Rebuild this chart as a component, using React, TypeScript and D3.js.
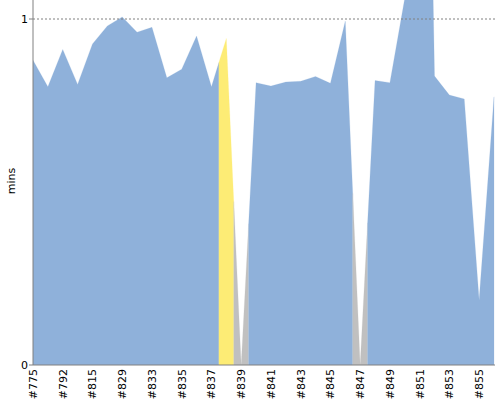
import React from "react";
import * as d3 from "d3";

const builds = [
  "#775", "#784", "#792", "#806", "#815", "#822", "#829", "#831",
  "#833", "#834", "#835", "#836", "#837", "#838", "#839", "#840",
  "#841", "#842", "#843", "#844", "#845", "#846", "#847", "#848",
  "#849", "#850", "#851", "#852", "#853", "#854", "#855", "#856",
];
const durations = [
  0.881, 0.804, 0.912, 0.811, 0.928, 0.98, 1.006, 0.962,
  0.976, 0.83, 0.855, 0.951, 0.804, 0.944, 0, 0.816,
  0.806, 0.818, 0.82, 0.834, 0.814, 0.994, 0, 0.822,
  0.816, 1.06, 3.3, 0.835, 0.78, 0.769, 0.188, 0.775,
];
const statuses = [
  "S", "S", "S", "S", "S", "S", "S", "S",
  "S", "S", "S", "S", "S", "U", "A", "S",
  "S", "S", "S", "S", "S", "S", "A", "S",
  "S", "S", "S", "S", "S", "S", "S", "S",
];
const yTicks = [0, 1];
const statusColors: Record<string, string> = {
  S: "#8fb1da",
  U: "#fdec75",
  A: "#c0c0c0",
};

const W = 500;
const H = 400;
const left = 33;
const right = 494;
const top = 0;
const bottom = 365;

export default function App() {
  const x = d3.scalePoint<string>().domain(builds).range([left, right]);
  const y = d3.scaleLinear().domain([0, 365 / 346]).range([bottom, top]);
  const n = builds.length;

  // group consecutive builds of equal status into runs
  const runs: { s: string; from: number; to: number }[] = [];
  statuses.forEach((s, i) => {
    const last = runs[runs.length - 1];
    if (last && last.s === s) last.to = i;
    else runs.push({ s, from: i, to: i });
  });

  const line = d3
    .line<[number, number]>()
    .x((p) => p[0])
    .y((p) => p[1]);

  const paths = runs.map((r) => {
    const pts: [number, number][] = [];
    const xa = r.from > 0 ? (x(builds[r.from - 1])! + x(builds[r.from])!) / 2 : x(builds[r.from])!;
    const va = r.from > 0 ? (durations[r.from - 1] + durations[r.from]) / 2 : durations[r.from];
    const xb = r.to < n - 1 ? (x(builds[r.to + 1])! + x(builds[r.to])!) / 2 : x(builds[r.to])!;
    const vb = r.to < n - 1 ? (durations[r.to + 1] + durations[r.to]) / 2 : durations[r.to];
    pts.push([xa, y(0)], [xa, y(va)]);
    for (let i = r.from; i <= r.to; i++) pts.push([x(builds[i])!, y(durations[i])]);
    pts.push([xb, y(vb)], [xb, y(0)]);
    return { key: `${r.from}`, d: (line(pts) || "") + "Z", color: statusColors[r.s] };
  });

  return (
    <svg width={W} height={H} style={{ position: "absolute", left: 0, top: 0, fontFamily: "DejaVu Sans" }}>
      <rect x={0} y={0} width={W} height={H} fill="#fff" />
      <defs>
        <clipPath id="plot">
          <rect x={left} y={top} width={right - left + 1} height={bottom - top} />
        </clipPath>
      </defs>
      <g clipPath="url(#plot)">
        {paths.map((p) => (
          <path key={p.key} d={p.d} fill={p.color} stroke={p.color} strokeWidth={0.2} />
        ))}
      </g>
      <line x1={left} x2={right + 1} y1={y(1)} y2={y(1)} stroke="#808080" strokeWidth={1} strokeDasharray="2,2" />
      <line x1={left} x2={left} y1={top} y2={bottom} stroke="#808080" strokeWidth={1} />
      <line x1={left} x2={right + 1} y1={bottom} y2={bottom} stroke="#808080" strokeWidth={1} />
      {yTicks.map((t) => (
        <g key={t}>
          <line x1={left - 4} x2={left} y1={y(t)} y2={y(t)} stroke="#808080" />
          <text x={left - 5} y={y(t)} dy="0.35em" textAnchor="end" fontSize={11} fill="#000">
            {t}
          </text>
        </g>
      ))}
      {builds.map((b, i) =>
        i % 2 === 0 ? (
          <text
            key={b}
            transform={`translate(${x(b)! + 4},${bottom + 4}) rotate(-90)`}
            textAnchor="end"
            fontSize={11}
            fill="#000"
          >
            {b}
          </text>
        ) : null
      )}
      <text transform={`translate(15,181) rotate(-90)`} textAnchor="middle" fontSize={11} fill="#000">
        mins
      </text>
    </svg>
  );
}
